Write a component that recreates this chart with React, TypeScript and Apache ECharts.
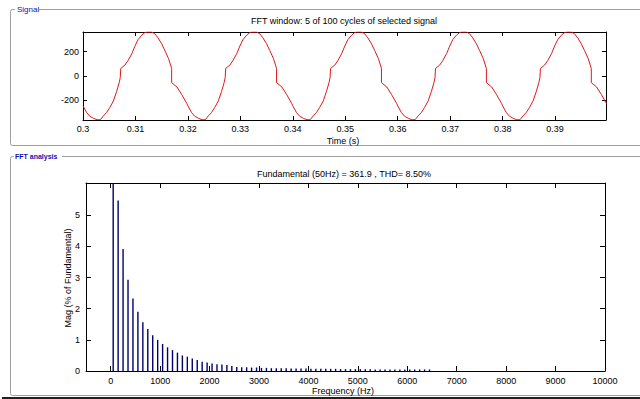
import React, { useEffect, useRef } from "react";
import * as echarts from "echarts";

// One cycle of the signal (offset from cycle start, s / value)
const cycleStarts = [0.30, 0.32, 0.34, 0.36, 0.38];
const cycleOffsets = [0.0000, 0.0007, 0.0013, 0.0020, 0.0027, 0.0033, 0.0039, 0.0045, 0.0051, 0.0058, 0.0064, 0.0069, 0.0071, 0.0072, 0.0080, 0.0086, 0.0093, 0.0099, 0.0105, 0.0112, 0.0118, 0.0122, 0.0131, 0.0137, 0.0143, 0.0150, 0.0156, 0.0163, 0.0167, 0.0169, 0.0169, 0.0179, 0.0188, 0.0198];
const cycleValues = [-246, -301, -331, -348, -360, -360, -328, -301, -260, -205, -129, -55, -14, 62, 90, 128, 183, 246, 300, 336, 357, 362, 362, 347, 314, 265, 210, 144, 90, 60, -55, -90, -151, -227];

const timeTicks = [0.30, 0.31, 0.32, 0.33, 0.34, 0.35, 0.36, 0.37, 0.38, 0.39];
const signalTicks = [-200, 0, 200];

const harmonicFreqs = [50, 150, 250, 350, 450, 550, 650, 750, 850, 950, 1050, 1150, 1250, 1350, 1450, 1550, 1650, 1750, 1850, 1950, 2050, 2150, 2250, 2350, 2450, 2550, 2650, 2750, 2850, 2950, 3050, 3150, 3250, 3350, 3450, 3550, 3650, 3750, 3850, 3950, 4050, 4150, 4250, 4350, 4450, 4550, 4650, 4750, 4850, 4950, 5050, 5150, 5250, 5350, 5450, 5550, 5650, 5750, 5850, 5950, 6050, 6150, 6250, 6350, 6450];
const harmonicMags = [100, 5.48, 3.92, 2.93, 2.33, 1.90, 1.57, 1.35, 1.15, 1.00, 0.87, 0.76, 0.67, 0.59, 0.50, 0.46, 0.40, 0.35, 0.30, 0.27, 0.24, 0.22, 0.21, 0.19, 0.16, 0.13, 0.12, 0.12, 0.11, 0.11, 0.10, 0.10, 0.09, 0.09, 0.09, 0.09, 0.08, 0.08, 0.08, 0.08, 0.07, 0.07, 0.07, 0.07, 0.07, 0.07, 0.06, 0.06, 0.06, 0.06, 0.06, 0.06, 0.06, 0.05, 0.05, 0.05, 0.05, 0.05, 0.05, 0.05, 0.05, 0.05, 0.05, 0.05, 0.05];

const freqTicks = [0, 1000, 2000, 3000, 4000, 5000, 6000, 7000, 8000, 9000, 10000];
const magTicks = [0, 1, 2, 3, 4, 5];

const FONT = "Liberation Sans, Arial, sans-serif";

export default function App() {
  const ref = useRef<HTMLDivElement>(null);
  useEffect(() => {
    document.body.style.margin = "0";
    const chart = echarts.init(ref.current!, null, { renderer: "svg" });
    const signalData: number[][] = [];
    cycleStarts.forEach((s) => {
      cycleOffsets.forEach((o, i) => signalData.push([s + o, cycleValues[i]]));
    });
    const fftData = harmonicFreqs.map((f, i) => [f, harmonicMags[i]]);

    const lab = { color: "#000", fontSize: 9, fontFamily: FONT };
    const axLine = { show: true, onZero: false, lineStyle: { color: "#000", width: 1 } };
    const plain = (v: number) => String(Math.round(v * 100) / 100);

    const mkX = (grid: number, min: number, max: number, ticks: number[], pos: "top" | "bottom", labels: boolean, len: number, margin: number) => ({
      type: "value", gridIndex: grid, min, max, position: pos,
      axisLine: axLine,
      axisTick: { show: true, inside: true, length: len, customValues: ticks, lineStyle: { color: "#000" } },
      axisLabel: labels ? { show: true, customValues: ticks, margin, ...lab, formatter: plain } : { show: false },
      splitLine: { show: false },
    });
    const mkY = (grid: number, min: number, max: number, ticks: number[], pos: "left" | "right", labels: boolean, len: number, margin: number) => ({
      type: "value", gridIndex: grid, min, max, position: pos,
      axisLine: axLine,
      axisTick: { show: true, inside: true, length: len, customValues: ticks, lineStyle: { color: "#000" } },
      axisLabel: labels ? { show: true, customValues: ticks, margin, ...lab, formatter: plain } : { show: false },
      splitLine: { show: false },
    });

    const txt = (text: string, x: number, y: number, extra: any = {}) => ({
      type: "text", x, y, z: 10,
      style: { text, fill: "#000", font: `9px ${FONT}`, textAlign: "center", textVerticalAlign: "middle", ...extra },
    });

    chart.setOption({
      animation: false,
      backgroundColor: "#fff",
      grid: [
        { left: 83, top: 32, width: 523, height: 88 },
        { left: 86, top: 183, width: 519, height: 188 },
      ],
      xAxis: [
        mkX(0, 0.3, 0.3997, timeTicks, "bottom", true, 4, 4),
        mkX(0, 0.3, 0.3997, timeTicks, "top", false, 4, 4),
        mkX(1, -500, 10000, freqTicks, "bottom", true, 5, 5),
        mkX(1, -500, 10000, freqTicks, "top", false, 5, 5),
      ],
      yAxis: [
        mkY(0, -362, 362, signalTicks, "left", true, 4, 4),
        mkY(0, -362, 362, signalTicks, "right", false, 4, 4),
        mkY(1, 0, 6.04, magTicks, "left", true, 5, 6),
        mkY(1, 0, 6.04, magTicks, "right", false, 5, 6),
      ],
      series: [
        {
          type: "line", xAxisIndex: 0, yAxisIndex: 0, data: signalData,
          showSymbol: false, symbol: "none", clip: true,
          lineStyle: { color: "#e01818", width: 1 },
        },
        {
          type: "bar", xAxisIndex: 2, yAxisIndex: 2, data: fftData,
          barWidth: 1.4, clip: true,
          itemStyle: { color: "#00006e" },
        },
      ],
      graphic: [
        { type: "rect", shape: { x: 10.5, y: 9.5, width: 640, height: 136, r: 2 }, style: { fill: "none", stroke: "#a0a0a0", lineWidth: 1 } },
        { type: "rect", shape: { x: 15, y: 4, width: 24, height: 11 }, style: { fill: "#fff" } },
        { type: "text", x: 17, y: 9.5, style: { text: "Signal", fill: "#1010b0", font: `8px ${FONT}`, textVerticalAlign: "middle" } },
        { type: "rect", shape: { x: 10.5, y: 156.5, width: 640, height: 239, r: 2 }, style: { fill: "none", stroke: "#a0a0a0", lineWidth: 1 } },
        { type: "rect", shape: { x: 14, y: 151, width: 48, height: 11 }, style: { fill: "#fff" } },
        { type: "text", x: 15, y: 156.5, style: { text: "FFT analysis", fill: "#1010b0", font: `bold 7px ${FONT}`, textVerticalAlign: "middle" } },
        { type: "line", shape: { x1: 2, y1: 398, x2: 640, y2: 398 }, style: { stroke: "#202020", lineWidth: 2 } },
        txt("FFT window: 5 of 100 cycles of selected signal", 344, 21),
        txt("Time (s)", 343, 141),
        txt("Fundamental (50Hz) = 361.9 , THD= 8.50%", 344, 174),
        txt("Frequency (Hz)", 343, 391),
        { type: "text", x: 67.5, y: 278, rotation: Math.PI / 2, z: 10, style: { text: "Mag (% of Fundamental)", fill: "#000", font: `9px ${FONT}`, textAlign: "center", textVerticalAlign: "middle" } },
      ],
    });
    return () => chart.dispose();
  }, []);
  return <div ref={ref} style={{ width: 640, height: 399 }} />;
}
